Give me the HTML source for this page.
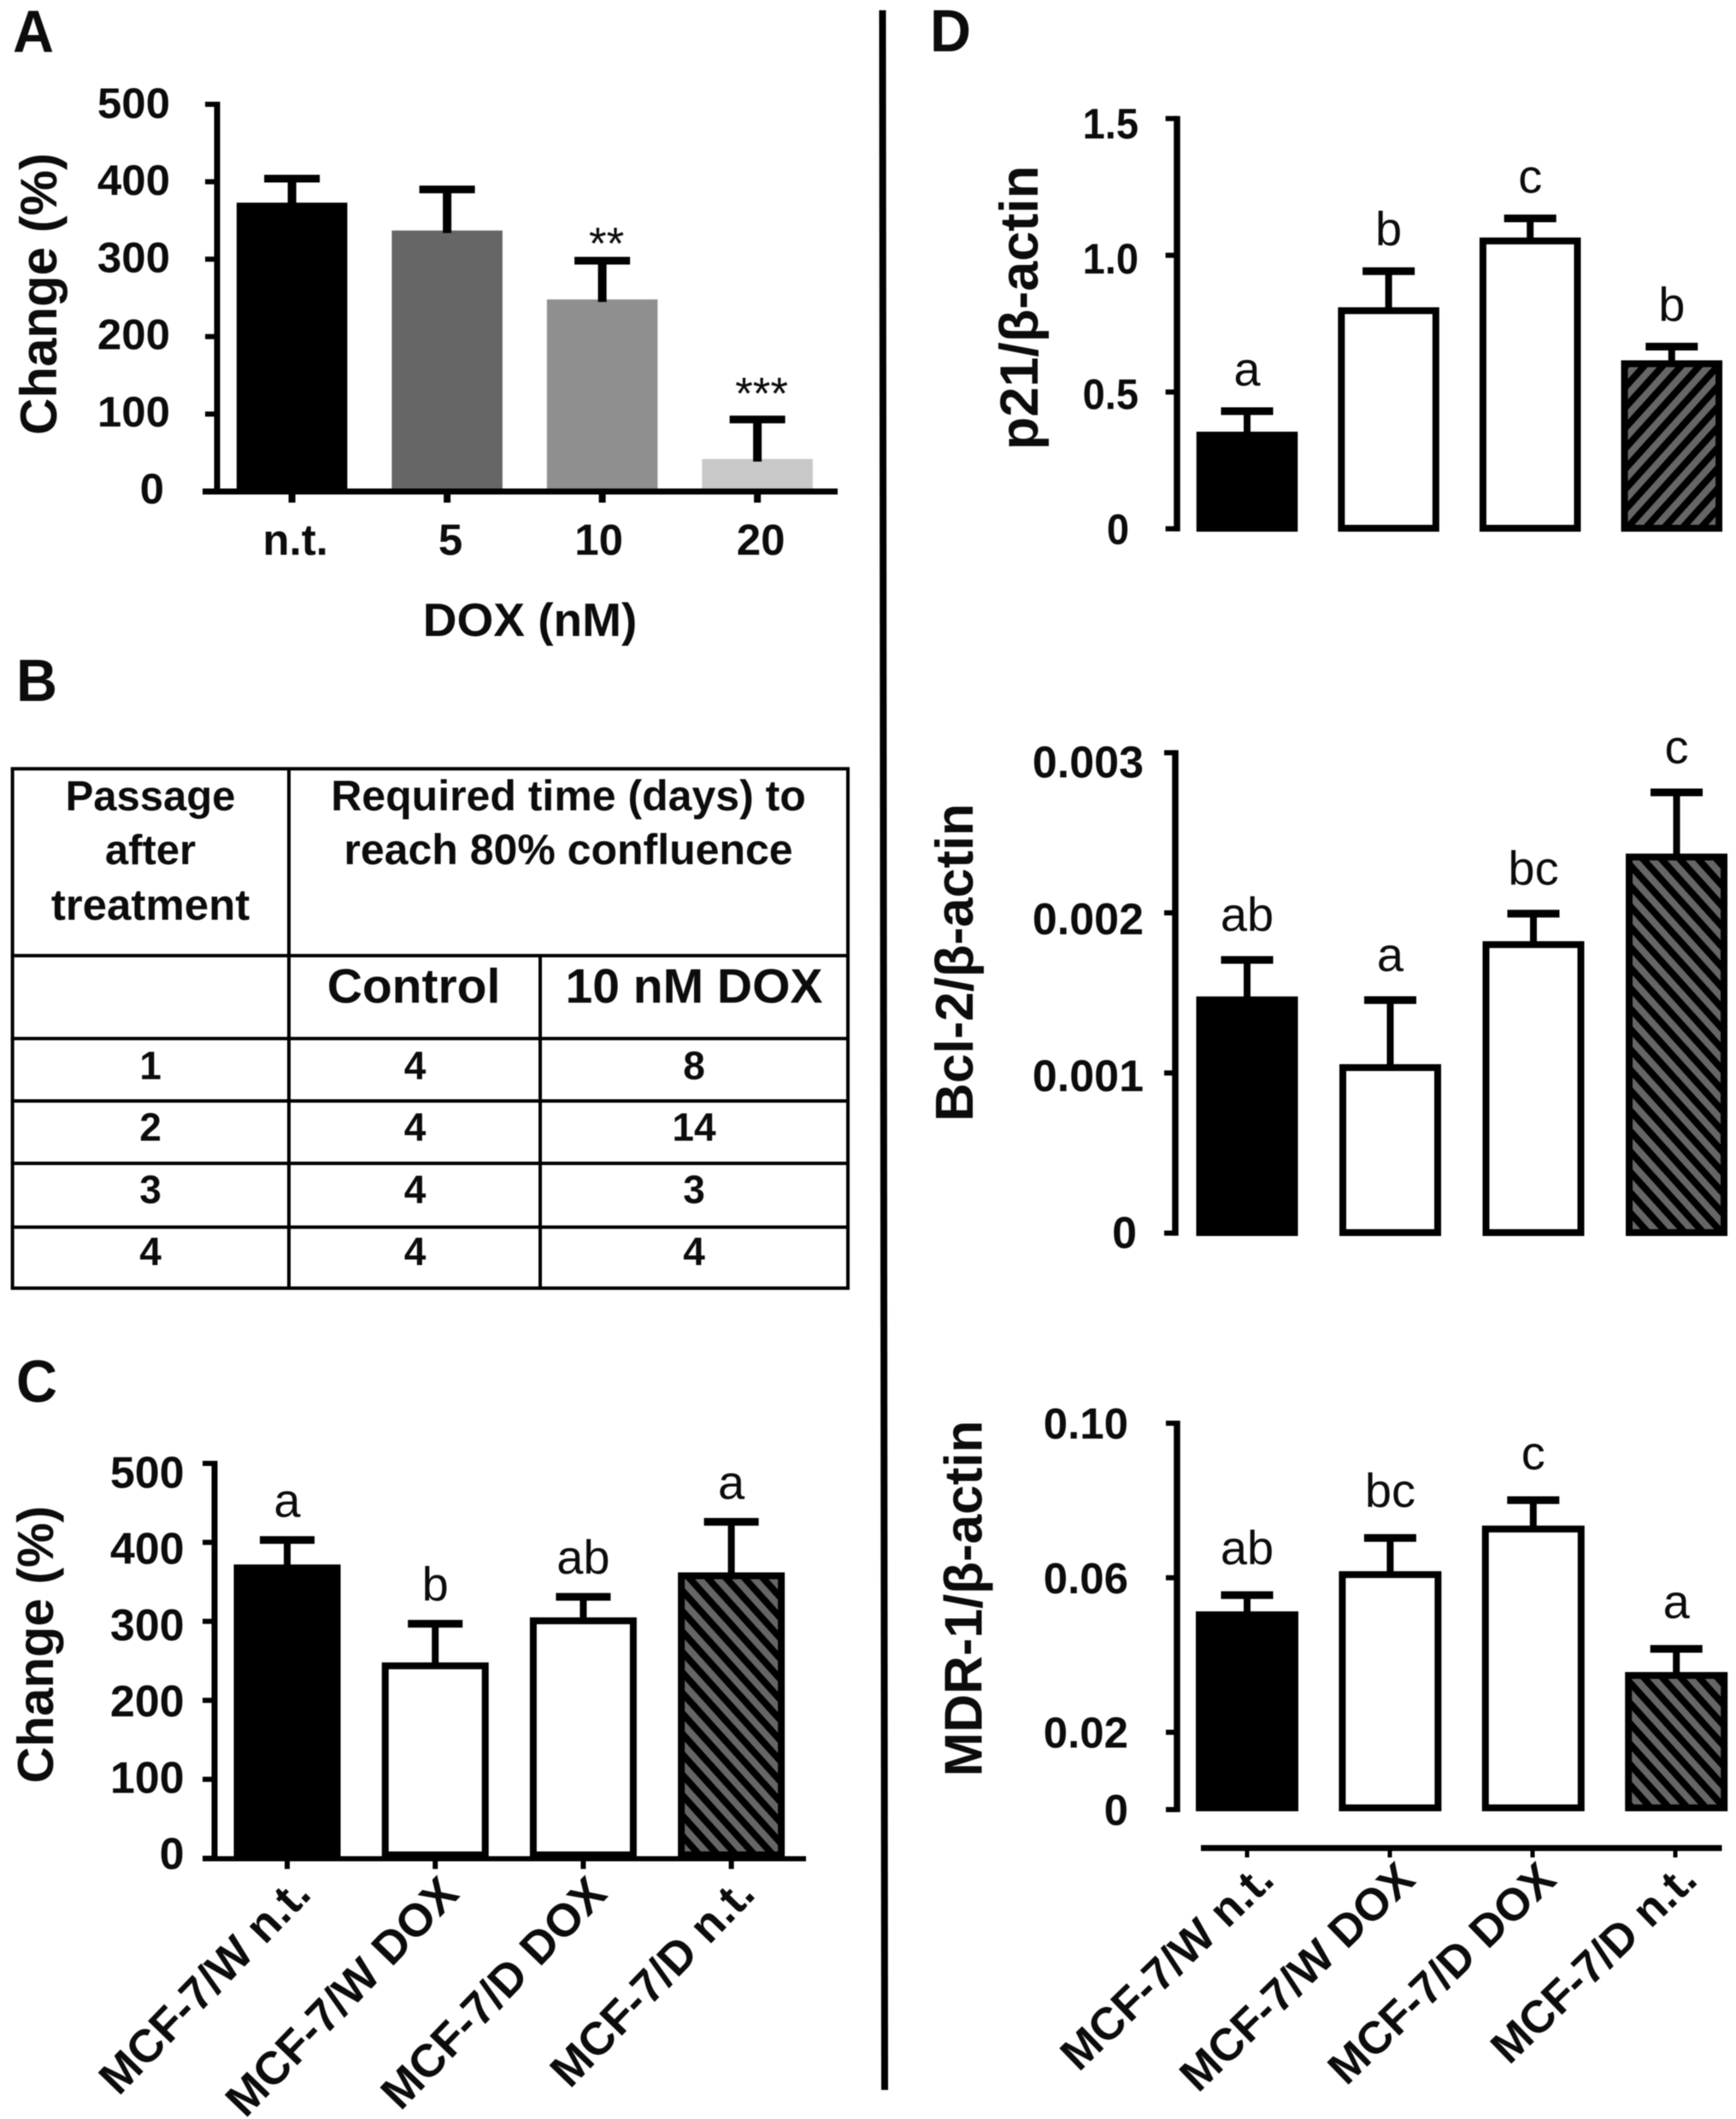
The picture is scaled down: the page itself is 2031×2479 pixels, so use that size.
<!DOCTYPE html>
<html lang="en">
<head>
<meta charset="utf-8">
<title>Doxorubicin treatment figure</title>
<style>
html,body{margin:0;padding:0;background:#fff;}
#figure{display:block;width:2031px;height:2479px;filter:blur(0.6px);}
text{font-family:"Liberation Sans",Arial,sans-serif;fill:#0c0c0c;}
</style>
</head>
<body>
<svg id="figure" xmlns="http://www.w3.org/2000/svg" width="2031" height="2479" viewBox="0 0 2031 2479">
  <defs>
    <pattern id="hatch-forward" patternUnits="userSpaceOnUse" width="16" height="16" patternTransform="rotate(42)">
      <rect width="16" height="16" fill="#666"/><rect width="8" height="16" fill="#000"/>
    </pattern>
    <pattern id="hatch-back" patternUnits="userSpaceOnUse" width="16" height="16" patternTransform="rotate(-42)">
      <rect width="16" height="16" fill="#666"/><rect width="8" height="16" fill="#000"/>
    </pattern>
  </defs>
  <rect width="2031" height="2479" fill="#fff"/>
  <line x1="1032.5" y1="12" x2="1035" y2="2445" stroke="#000" stroke-width="8"/>
</svg>
<script>
// ---------- Panel A data ----------
const aCategories = ['n.t.', '5', '10', '20'];
const aValues = [373, 337, 248, 42];
const aErrorTops = [404, 390, 298, 93];
const aMarks = ['', '', '**', '***'];
const aTicks = [0, 100, 200, 300, 400, 500];
const aTickLabels = ['0', '100', '200', '300', '400', '500'];
const aFills = ['#000000', '#666666', '#8f8f8f', '#c8c8c8'];

// ---------- Panel C data ----------
const groupCategories = ['MCF-7/W n.t.', 'MCF-7/W DOX', 'MCF-7/D DOX', 'MCF-7/D n.t.'];
const cValues = [372, 248, 305, 362];
const cErrorTops = [403, 297, 331, 426];
const cLetters = ['a', 'b', 'ab', 'a'];
const cTicks = [0, 100, 200, 300, 400, 500];
const cTickLabels = ['0', '100', '200', '300', '400', '500'];

// ---------- Panel D data ----------
const p21Values = [0.355, 0.81, 1.065, 0.616];
const p21ErrorTops = [0.43, 0.942, 1.135, 0.666];
const p21Letters = ['a', 'b', 'c', 'b'];
const p21Ticks = [0, 0.5, 1.0, 1.5];
const p21TickLabels = ['0', '0.5', '1.0', '1.5'];

const bcl2Values = [0.001478, 0.001055, 0.001823, 0.00237];
const bcl2ErrorTops = [0.001706, 0.001455, 0.001995, 0.002752];
const bcl2Letters = ['ab', 'a', 'bc', 'c'];
const bcl2Ticks = [0, 0.001, 0.002, 0.003];
const bcl2TickLabels = ['0', '0.001', '0.002', '0.003'];

const mdr1Values = [0.0513, 0.0617, 0.0735, 0.0356];
const mdr1ErrorTops = [0.0555, 0.0703, 0.0801, 0.0416];
const mdr1Letters = ['ab', 'bc', 'c', 'a'];
const mdr1Ticks = [0, 0.02, 0.06, 0.10];
const mdr1TickLabels = ['0', '0.02', '0.06', '0.10'];

// ---------- Table B data ----------
const passageRows = ['1', '2', '3', '4'];
const controlDays = ['4', '4', '4', '4'];
const doxDays = ['8', '14', '3', '4'];

const SVG_NS = 'http://www.w3.org/2000/svg';
const root = document.getElementById('figure');

function make(tag, attrs, name, parent) {
  const el = document.createElementNS(SVG_NS, tag);
  for (const k in attrs) el.setAttribute(k, attrs[k]);
  
  
  (parent || root).appendChild(el);
  return el;
}
function label(str, x, y, size, name, parent, opt) {
  const o = opt || {};
  const rot = o.rot || 0;
  const sx = o.sx || 1;
  const el = make('text', {
    transform: 'translate(' + x + ' ' + y + ') rotate(' + (-rot) + ') scale(' + sx + ' 1)',
    'font-size': size,
    'font-weight': o.regular ? 'normal' : 'bold',
    'text-anchor': o.anchor || 'middle'
  }, name, parent);
  el.textContent = str;
  return el;
}
function hline(x1, x2, y, w, name, parent) {
  return make('line', {x1: x1, x2: x2, y1: y, y2: y, stroke: '#000', 'stroke-width': w}, name, parent);
}
function vline(x, y1, y2, w, name, parent) {
  return make('line', {x1: x, x2: x, y1: y1, y2: y2, stroke: '#000', 'stroke-width': w}, name, parent);
}

function drawChart(c) {
  const g = make('g', {}, c.id + '-chart');
  const yScale = function (v) { return c.yZero + (c.yTop - c.yZero) * (v / c.yMax); };
  const xScale = function (i) { return c.xFirst + c.xStep * i; };
  const labelY = function (v) { return c.labelZero + (c.labelTop - c.labelZero) * (v / c.yMax); };

  // y axis + ticks
  vline(c.axisX, yScale(c.yMax) - 3, c.yZero + 3, c.axisW, c.id + '-y-axis', g);
  c.ticks.forEach(function (t, i) {
    hline(c.tickLeft, c.axisX, yScale(t), c.tickW, c.id + '-y-tick', g);
    label(c.tickLabels[i], c.labelX + (t === 0 ? c.zeroShift : 0), labelY(t), c.tickFont, c.id + '-y-tick-label', g, {anchor: 'end', sx: c.tickSx});
  });
  label(c.title, c.titleX, c.titleY, c.titleFont, c.id + '-y-axis-title', g, {rot: 90});

  // bars
  c.values.forEach(function (v, i) {
    const cx = xScale(i);
    const top = yScale(v);
    const bottom = c.yZero + c.barPad;
    const kind = c.kinds[i];
    const bar = make('rect', {}, c.id + '-bar-' + (i + 1), g);
    if (c.barStroke === 0 || kind === '#000000') {
      bar.setAttribute('x', cx - c.barW / 2);
      bar.setAttribute('y', top);
      bar.setAttribute('width', c.barW);
      bar.setAttribute('height', bottom - top);
      bar.setAttribute('fill', kind);
    } else {
      const sw = c.barStroke;
      bar.setAttribute('x', cx - c.barW / 2 + sw / 2);
      bar.setAttribute('y', top + sw / 2);
      bar.setAttribute('width', c.barW - sw);
      bar.setAttribute('height', bottom - top - sw);
      bar.setAttribute('fill', kind);
      bar.setAttribute('stroke', '#000');
      bar.setAttribute('stroke-width', sw);
    }
    // error bar
    const errY = yScale(c.errors[i]);
    vline(cx, errY, top + 3, c.stemW, c.id + '-error-stem-' + (i + 1), g);
    hline(cx - c.capW / 2, cx + c.capW / 2, errY, c.capH, c.id + '-error-cap-' + (i + 1), g);
    // annotation
    if (c.letters && c.letters[i]) {
      label(c.letters[i], cx + c.letterDx, errY - c.letterGap, c.letterFont, c.id + '-significance-label-' + (i + 1), g, {regular: true});
    }
  });

  // x axis
  if (c.xAxisY) {
    hline(c.xAxisFrom, c.xAxisTo, c.xAxisY, c.xAxisW, c.id + '-x-axis', g);
    c.categories.forEach(function (cat, i) {
      vline(c.xAxisTickFirst + c.xAxisTickStep * i, c.xAxisY, c.xAxisTickEnd, c.tickXW, c.id + '-x-tick', g);
    });
  }
  return {g: g, xScale: xScale, yScale: yScale};
}

// ---------- Panel labels ----------
label('A', 15, 61, 70, 'panel-label-a', root, {anchor: 'start', sx: 0.95});
label('B', 19, 820, 70, 'panel-label-b', root, {anchor: 'start', sx: 0.95});
label('C', 19, 1640, 70, 'panel-label-c', root, {anchor: 'start', sx: 0.95});
label('D', 1088, 60, 70, 'panel-label-d', root, {anchor: 'start', sx: 0.95});

// ---------- Panel A ----------
const panelA = drawChart({
  id: 'panel-a', title: 'Change (%)', titleX: 66, titleY: 344, titleFont: 60,
  values: aValues, errors: aErrorTops, kinds: aFills, categories: aCategories,
  ticks: aTicks, tickLabels: aTickLabels, yMax: 500, yZero: 575, yTop: 122,
  axisX: 254, axisW: 7, tickLeft: 240, tickW: 6, labelX: 199, labelZero: 589, labelTop: 138,
  zeroShift: -7, tickFont: 50, tickSx: 1.02,
  xFirst: 341.6, xStep: 181.5, barW: 129.5, barPad: 0, barStroke: 0, stemW: 10, capW: 65, capH: 9,
  xAxisY: 575, xAxisFrom: 237, xAxisTo: 980, xAxisW: 7, xAxisTickFirst: 341.6, xAxisTickStep: 181.5, xAxisTickEnd: 588, tickXW: 8
});
aCategories.forEach(function (cat, i) {
  label(cat, panelA.xScale(i) + (i === 2 ? -4 : 4), 649, 51, 'panel-a-x-tick-label', panelA.g);
});
aMarks.forEach(function (m, i) {
  if (m) label(m, panelA.xScale(i) + 5, panelA.yScale(aErrorTops[i]) - 12 + (i === 3 ? 0 : 10), 53, 'panel-a-significance-mark', panelA.g, {regular: true});
});
label('DOX (nM)', 620, 744, 55, 'panel-a-x-axis-title', panelA.g);

// ---------- Table B ----------
const tableGroup = make('g', {}, 'panel-b-table');
const tableLeft = 14.6, tableRight = 992, col1 = 338, col2 = 632;
const rowLines = [899.4, 1118, 1215, 1288, 1361, 1435.6, 1507];
rowLines.forEach(function (y) {
  hline(tableLeft - 2, tableRight + 2, y, 4, 'table-row-line', tableGroup);
});
vline(tableLeft, 899.4, 1507, 4, 'table-left-border', tableGroup);
vline(tableRight, 899.4, 1507, 4, 'table-right-border', tableGroup);
vline(col1, 899.4, 1507, 4, 'table-column-line', tableGroup);
vline(col2, 1118, 1507, 4, 'table-column-line', tableGroup);
label('Passage', 176, 948, 49, 'table-header-passage', tableGroup);
label('after', 176, 1011, 49, 'table-header-after', tableGroup);
label('treatment', 176, 1076, 51, 'table-header-treatment', tableGroup);
label('Required time (days) to', 665, 948, 50, 'table-header-required-time', tableGroup);
label('reach 80% confluence', 665, 1011, 50, 'table-header-confluence', tableGroup);
label('Control', 484, 1173, 57, 'table-header-control', tableGroup);
label('10 nM DOX', 812, 1173, 57, 'table-header-dox', tableGroup);
const rowBaselines = [1262.5, 1334.6, 1407.7, 1480];
passageRows.forEach(function (p, i) {
  label(p, 176, rowBaselines[i], 46, 'table-passage-cell', tableGroup);
  label(controlDays[i], 485.5, rowBaselines[i], 46, 'table-control-cell', tableGroup);
  label(doxDays[i], 812, rowBaselines[i], 46, 'table-dox-cell', tableGroup);
});

// ---------- Panel C ----------
const panelC = drawChart({
  id: 'panel-c', title: 'Change (%)', titleX: 62, titleY: 1924, titleFont: 59,
  values: cValues, errors: cErrorTops, kinds: ['#000000', '#ffffff', '#ffffff', 'url(#hatch-back)'], categories: groupCategories,
  ticks: cTicks, tickLabels: cTickLabels, yMax: 500, yZero: 2174, yTop: 1712,
  axisX: 251, axisW: 7, tickLeft: 237, tickW: 6, labelX: 215.6, labelZero: 2186.5, labelTop: 1740.5,
  zeroShift: 0, tickFont: 52, tickSx: 1,
  xFirst: 336, xStep: 173.2, barW: 125, barPad: 0, barStroke: 8, stemW: 8, capW: 64, capH: 9,
  letters: cLetters, letterGap: 27, letterDx: 0, letterFont: 56,
  xAxisY: 2174.5, xAxisFrom: 237, xAxisTo: 943, xAxisW: 6, xAxisTickFirst: 336, xAxisTickStep: 173.2, xAxisTickEnd: 2186.5, tickXW: 6
});
groupCategories.forEach(function (cat, i) {
  label(cat, panelC.xScale(i) + 30, 2218, 54, 'panel-c-x-tick-label', panelC.g, {anchor: 'end', rot: 46});
});

// ---------- Panel D1 ----------
drawChart({
  id: 'panel-d-p21', title: 'p21/\u03B2-actin', titleX: 1214, titleY: 360, titleFont: 63,
  values: p21Values, errors: p21ErrorTops, kinds: ['#000000', '#ffffff', '#ffffff', 'url(#hatch-forward)'], categories: groupCategories,
  ticks: p21Ticks, tickLabels: p21TickLabels, yMax: 1.5, yZero: 618.6, yTop: 138.7,
  axisX: 1377, axisW: 7.5, tickLeft: 1363.6, tickW: 6, labelX: 1332, labelZero: 636.5, labelTop: 162,
  zeroShift: -11, tickFont: 50, tickSx: 0.94,
  xFirst: 1459, xStep: 165.6, barW: 118.5, barPad: 3.4, barStroke: 8, stemW: 8, capW: 61, capH: 9,
  letters: p21Letters, letterGap: 30, letterDx: 0, letterFont: 56
});

// ---------- Panel D2 ----------
drawChart({
  id: 'panel-d-bcl2', title: 'Bcl-2/\u03B2-actin', titleX: 1138, titleY: 1126, titleFont: 62,
  values: bcl2Values, errors: bcl2ErrorTops, kinds: ['#000000', '#ffffff', '#ffffff', 'url(#hatch-back)'], categories: groupCategories,
  ticks: bcl2Ticks, tickLabels: bcl2TickLabels, yMax: 0.003, yZero: 1442.6, yTop: 880.6,
  axisX: 1375, axisW: 7.5, tickLeft: 1362, tickW: 6, labelX: 1338, labelZero: 1460, labelTop: 909.6,
  zeroShift: -8, tickFont: 52, tickSx: 1,
  xFirst: 1459, xStep: 167.5, barW: 119, barPad: 3.4, barStroke: 8, stemW: 8, capW: 61, capH: 9,
  letters: bcl2Letters, letterGap: 34, letterDx: 0, letterFont: 56
});

// ---------- Panel D3 ----------
const panelMdr = drawChart({
  id: 'panel-d-mdr1', title: 'MDR-1/\u03B2-actin', titleX: 1148.7, titleY: 1870, titleFont: 62,
  values: mdr1Values, errors: mdr1ErrorTops, kinds: ['#000000', '#ffffff', '#ffffff', 'url(#hatch-back)'], categories: groupCategories,
  ticks: mdr1Ticks, tickLabels: mdr1TickLabels, yMax: 0.1, yZero: 2117, yTop: 1665,
  axisX: 1377, axisW: 7.5, tickLeft: 1364, tickW: 6, labelX: 1320, labelZero: 2135, labelTop: 1683,
  zeroShift: 0, tickFont: 51, tickSx: 1,
  xFirst: 1459, xStep: 167.4, barW: 120, barPad: 2, barStroke: 8, stemW: 8, capW: 61, capH: 9,
  letters: mdr1Letters, letterGap: 36, letterDx: 0, letterFont: 56,
  xAxisY: 2162, xAxisFrom: 1405, xAxisTo: 2014.5, xAxisW: 7, xAxisTickFirst: 1459, xAxisTickStep: 167, xAxisTickEnd: 2173, tickXW: 5
});
groupCategories.forEach(function (cat, i) {
  label(cat, 1493 + 165 * i, 2202, 53, 'panel-d-x-tick-label', panelMdr.g, {anchor: 'end', rot: 44});
});
</script>
</body>
</html>
